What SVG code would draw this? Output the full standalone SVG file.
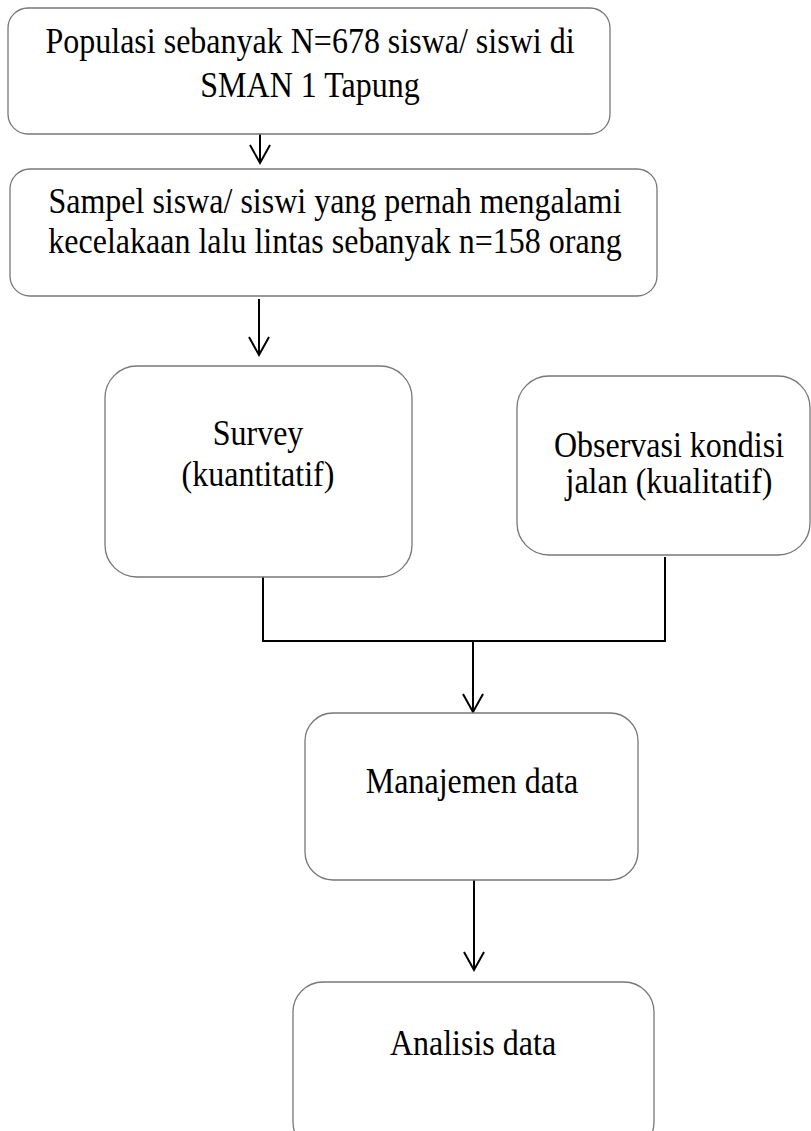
<svg xmlns="http://www.w3.org/2000/svg" width="811" height="1131" viewBox="0 0 811 1131">
<style>
.box{fill:#fff;stroke:#777;stroke-width:1.3}
.t{font-family:"Liberation Serif","Times New Roman",serif;font-size:32px;fill:#000;text-anchor:middle}
.c{fill:none;stroke:#000;stroke-width:2}
</style>
<defs>
<marker id="arr" markerUnits="userSpaceOnUse" markerWidth="24" markerHeight="24" viewBox="-20 -12 24 24" refX="0" refY="0" orient="auto" overflow="visible">
<path d="M-18,-10 L0,0 L-18,10" fill="none" stroke="#000" stroke-width="2"/>
</marker>
</defs>
<rect width="811" height="1131" fill="#fff"/>
<g id="connectors">
<line class="c" x1="260" y1="134" x2="260" y2="163" marker-end="url(#arr)"/>
<line class="c" x1="259" y1="299" x2="259" y2="355" marker-end="url(#arr)"/>
<polyline class="c" points="263,577 263,641 665,641 665,557"/>
<line class="c" x1="473" y1="641" x2="473" y2="712" marker-end="url(#arr)"/>
<line class="c" x1="474" y1="880" x2="474" y2="970" marker-end="url(#arr)"/>
</g>
<g id="n1">
<rect class="box" x="8" y="8" width="602" height="126" rx="20"/>
<text class="t" transform="translate(310 53) scale(1 1.12)">Populasi sebanyak N=678 siswa/ siswi di</text>
<text class="t" transform="translate(310 97) scale(1 1.12)">SMAN 1 Tapung</text>
</g>
<g id="n2">
<rect class="box" x="10" y="169" width="647" height="127" rx="20"/>
<text class="t" transform="translate(335 213) scale(1 1.12)">Sampel siswa/ siswi yang pernah mengalami</text>
<text class="t" transform="translate(335 253) scale(1 1.12)">kecelakaan lalu lintas sebanyak n=158 orang</text>
</g>
<g id="n3">
<rect class="box" x="105" y="366" width="307" height="211" rx="32"/>
<text class="t" transform="translate(258 445) scale(1 1.12)">Survey</text>
<text class="t" transform="translate(258 486) scale(1 1.12)">(kuantitatif)</text>
</g>
<g id="n4">
<rect class="box" x="517" y="376" width="293" height="179" rx="32"/>
<text class="t" transform="translate(669 457) scale(1 1.12)">Observasi kondisi</text>
<text class="t" transform="translate(669 493) scale(1 1.12)">jalan (kualitatif)</text>
</g>
<g id="n5">
<rect class="box" x="305" y="713" width="333" height="167" rx="28"/>
<text class="t" transform="translate(472 793) scale(1 1.12)">Manajemen data</text>
</g>
<g id="n6">
<rect class="box" x="293" y="982" width="361" height="170" rx="30"/>
<text class="t" transform="translate(473 1055) scale(1 1.12)">Analisis data</text>
</g>
</svg>
